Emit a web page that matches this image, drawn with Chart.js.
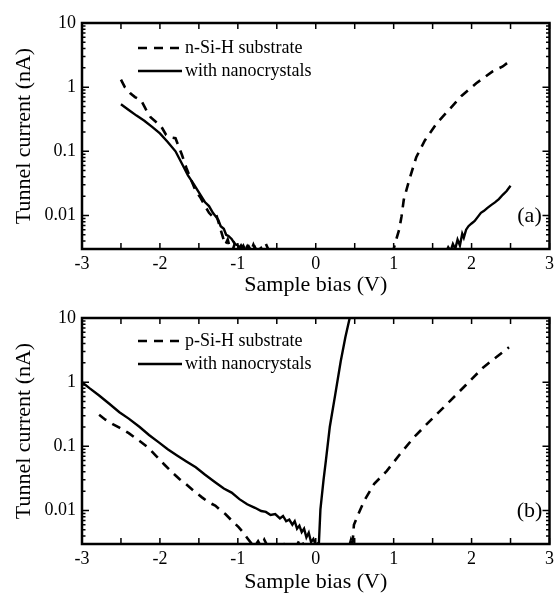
<!DOCTYPE html>
<html lang="en">
<head>
    <meta charset="UTF-8">
    <title>Tunnel current vs sample bias</title>
    <script src="https://cdn.jsdelivr.net/npm/chart.js"></script>
    <style>
        body {
            margin: 0;
            padding: 0;
            background: white;
        }
        #wrap {
            position: relative;
            width: 558px;
            height: 595px;
        }
        canvas {
            position: absolute;
            left: 0;
        }
    </style>
</head>
<body>
    <div id="wrap">
        <canvas id="chartA" width="558" height="298" style="top:0"></canvas>
        <canvas id="chartB" width="558" height="297" style="top:298px"></canvas>
    </div>

    <script>
        // x axis
        const xMin = -3, xMax = 3;
        // y axis (log)
        const yMin = 0.003, yMax = 10;
        const yTicks = [0.01, 0.1, 1, 10];
        const yTickLabels = ['0.01', '0.1', '1', '10'];

        const legendA = ['n-Si-H substrate', 'with nanocrystals'];
        const legendB = ['p-Si-H substrate', 'with nanocrystals'];

        // (a) n-Si-H substrate (dashed)
        const nSubX = [-2.5, -2.45, -2.38, -2.32, -2.24, -2.18, -2.12, -2.04, -1.98, -1.92, -1.86, -1.8, -1.76, -1.72,
            -1.66, -1.6, -1.54, -1.48, -1.42, -1.37, -1.32, -1.28, -1.25, -1.22, -1.19, -1.16, -1.13, -1.1, -1.07,
            -1.04, -1.0, -0.96, -0.92, -0.88, -0.84, -0.8, -0.76, -0.72, -0.68, -0.64, -0.6, -0.56, -0.52, -0.5,
            0.2,
            0.98, 1.0, 1.04, 1.07, 1.1, 1.13, 1.2, 1.29, 1.4, 1.55, 1.7, 1.87, 2.06, 2.27, 2.4, 2.48];
        const nSubY = [1.31, 1.0, 0.8, 0.7, 0.62, 0.45, 0.34, 0.28, 0.24, 0.18, 0.165, 0.16, 0.12, 0.09,
            0.055, 0.036, 0.024, 0.019, 0.014, 0.011, 0.0095, 0.0105, 0.008, 0.006, 0.0045, 0.0035, 0.0042, 0.0031, 0.0028,
            0.0036, 0.0029, 0.0034, 0.0027, 0.0033, 0.0026, 0.0035, 0.0027, 0.0032, 0.0026, 0.0036, 0.0028, 0.0032, 0.0027, 0.0025,
            null,
            0.0025, 0.003, 0.0045, 0.006, 0.0095, 0.0177, 0.036, 0.081, 0.148, 0.27, 0.43, 0.73, 1.15, 1.76, 2.1, 2.5];

        // (a) with nanocrystals (solid)
        const nNcX = [-2.5, -2.4, -2.3, -2.2, -2.1, -2.0, -1.9, -1.8, -1.72, -1.64, -1.56, -1.48, -1.42, -1.37, -1.32,
            -1.28, -1.25, -1.22, -1.18, -1.15, -1.12, -1.08, -1.04, -1.0, -0.96, -0.93, -0.9, -0.86, -0.82, -0.78,
            -0.74, -0.7, -0.66, -0.62, -0.58, -0.54, -0.5,
            0.5,
            1.66, 1.7, 1.73, 1.76, 1.79, 1.82, 1.85, 1.88, 1.9, 1.93, 1.96, 2.0, 2.04, 2.08, 2.12, 2.16, 2.2, 2.25,
            2.3, 2.35, 2.4, 2.45, 2.5];
        const nNcY = [0.54, 0.44, 0.36, 0.3, 0.24, 0.19, 0.14, 0.1, 0.065, 0.042, 0.03, 0.021, 0.016, 0.014, 0.011,
            0.0095, 0.0085, 0.0068, 0.0062, 0.005, 0.0048, 0.0043, 0.0036, 0.0034, 0.003, 0.0034, 0.0028, 0.0033, 0.0027, 0.0032,
            0.0026, 0.0031, 0.0026, 0.003, 0.0025, 0.0029, 0.0024,
            null,
            0.0025, 0.0032, 0.0028, 0.0036, 0.003, 0.0042, 0.0034, 0.0052, 0.0045, 0.006, 0.0068, 0.0075, 0.0082, 0.0095,
            0.011, 0.0118, 0.013, 0.0145, 0.016, 0.018, 0.021, 0.024, 0.029];

        // (b) p-Si-H substrate (dashed)
        const pSubX = [-2.78, -2.7, -2.6, -2.52, -2.4, -2.26, -2.15, -2.05, -1.95, -1.84, -1.75, -1.67, -1.56, -1.46,
            -1.38, -1.29, -1.22, -1.16, -1.08, -0.99, -0.93, -0.87, -0.82, -0.78, -0.74, -0.7, -0.66, -0.62, -0.56,
            -0.5, -0.44, -0.38, -0.32, -0.26, -0.2, -0.14, -0.08, -0.02,
            0.2,
            0.42, 0.45, 0.47, 0.49, 0.55, 0.62, 0.75, 0.91, 1.08, 1.26, 1.46, 1.68, 1.93, 2.15, 2.48];
        const pSubY = [0.31, 0.26, 0.22, 0.195, 0.16, 0.121, 0.095, 0.071, 0.053, 0.039, 0.031, 0.026, 0.02, 0.016,
            0.0135, 0.0119, 0.01, 0.0088, 0.007, 0.0055, 0.0045, 0.0036, 0.003, 0.0028, 0.0033, 0.0027, 0.0035, 0.0028, 0.0032,
            0.0026, 0.0033, 0.0027, 0.0031, 0.0026, 0.0036, 0.0027, 0.0029, 0.0025,
            null,
            0.0025, 0.0034, 0.0028, 0.006, 0.009, 0.014, 0.026, 0.041, 0.075, 0.138, 0.245, 0.45, 0.91, 1.7, 3.5];

        // (b) with nanocrystals (solid)
        const pNcX = [-3.0, -2.9, -2.78, -2.65, -2.52, -2.4, -2.26, -2.14, -2.01, -1.9, -1.78, -1.66, -1.54, -1.42,
            -1.3, -1.18, -1.08, -0.98, -0.88, -0.78, -0.7, -0.64, -0.58, -0.52, -0.46, -0.42, -0.38, -0.34, -0.3,
            -0.27, -0.24, -0.21, -0.18, -0.15, -0.12, -0.09, -0.06, -0.03, 0.0, 0.03, 0.04, 0.06, 0.1, 0.13, 0.18,
            0.25, 0.32, 0.38, 0.43, 0.46];
        const pNcY = [1.0, 0.8, 0.62, 0.46, 0.34, 0.27, 0.2, 0.15, 0.114, 0.09, 0.072, 0.058, 0.047, 0.036,
            0.028, 0.022, 0.019, 0.015, 0.0125, 0.011, 0.0098, 0.0095, 0.0085, 0.0088, 0.0075, 0.0082, 0.0068, 0.0072, 0.006,
            0.0068, 0.0052, 0.0058, 0.0046, 0.0052, 0.0038, 0.0045, 0.0032, 0.0036, 0.0029, 0.0031, 0.003, 0.0104, 0.03, 0.06, 0.2,
            0.64, 2.1, 5, 9.3, 13];

        const serif = 'Liberation Serif';

        function pts(xs, ys) {
            return xs.map((x, i) => ({x: x, y: ys[i]}));
        }

        // inward ticks, frame, legend and panel tag
        const framePlugin = {
            id: 'frame',
            afterDatasetsDraw(chart, args, opts) {
                const ctx = chart.ctx;
                const a = chart.chartArea;
                const x = chart.scales.x;
                const y = chart.scales.y;
                ctx.save();
                ctx.strokeStyle = '#000';
                ctx.lineWidth = 1.5;
                ctx.beginPath();
                for (let v = xMin; v <= xMax + 1e-9; v += 0.5) {
                    const px = x.getPixelForValue(v);
                    ctx.moveTo(px, a.bottom); ctx.lineTo(px, a.bottom - 6);
                    ctx.moveTo(px, a.top); ctx.lineTo(px, a.top + 6);
                }
                for (let e = -3; e <= 1; e++) {
                    for (let m = 1; m < 10; m++) {
                        const v = m * Math.pow(10, e);
                        if (v < yMin * 0.999 || v > yMax * 1.001) continue;
                        const py = y.getPixelForValue(v);
                        const len = m === 1 ? 7 : 3.5;
                        ctx.moveTo(a.left, py); ctx.lineTo(a.left + len, py);
                        ctx.moveTo(a.right, py); ctx.lineTo(a.right - len, py);
                    }
                }
                ctx.stroke();
                ctx.lineWidth = 2.5;
                ctx.strokeRect(a.left, a.top, a.right - a.left, a.bottom - a.top);

                // legend
                ctx.fillStyle = '#000';
                ctx.font = '18px "' + serif + '"';
                ctx.textBaseline = 'middle';
                chart.data.datasets.forEach((ds, i) => {
                    const ly = a.top + opts.legendTop + i * 23;
                    ctx.beginPath();
                    ctx.lineWidth = ds.borderWidth;
                    ctx.setLineDash(ds.borderDash || []);
                    ctx.moveTo(a.left + 56, ly);
                    ctx.lineTo(a.left + 100, ly);
                    ctx.stroke();
                    ctx.setLineDash([]);
                    ctx.fillText(ds.label, a.left + 103, ly);
                });

                ctx.font = '22px "' + serif + '"';
                ctx.textAlign = 'center';
                ctx.fillText(opts.tag, a.right - 20, a.bottom - 33);
                ctx.restore();
            }
        };

        function makeChart(id, labels, subX, subY, ncX, ncY, tag, padTop, xHeight, legendTop) {
            const ctx = document.getElementById(id).getContext('2d');
            return new Chart(ctx, {
                type: 'line',
                data: {
                    datasets: [{
                        label: labels[0],
                        data: pts(subX, subY),
                        borderColor: '#000',
                        borderWidth: 2.6,
                        borderDash: [9, 7],
                        pointRadius: 0,
                        tension: 0,
                        spanGaps: false,
                        clip: 0
                    }, {
                        label: labels[1],
                        data: pts(ncX, ncY),
                        borderColor: '#000',
                        borderWidth: 2.4,
                        pointRadius: 0,
                        tension: 0,
                        spanGaps: false,
                        clip: 0
                    }]
                },
                options: {
                    responsive: false,
                    animation: false,
                    devicePixelRatio: 1,
                    layout: {
                        padding: {top: padTop, right: 4, left: 0, bottom: 0}
                    },
                    plugins: {
                        legend: {display: false},
                        tooltip: {enabled: false},
                        frame: {tag: tag, legendTop: legendTop}
                    },
                    scales: {
                        x: {
                            type: 'linear',
                            min: xMin,
                            max: xMax,
                            grid: {display: false, drawTicks: false},
                            border: {display: false},
                            ticks: {
                                stepSize: 1,
                                maxRotation: 0,
                                color: '#000',
                                padding: 4,
                                font: {family: serif, size: 18}
                            },
                            title: {
                                display: true,
                                text: 'Sample bias (V)',
                                color: '#000',
                                padding: 0,
                                font: {family: serif, size: 22}
                            },
                            afterFit: s => { s.height = xHeight; }
                        },
                        y: {
                            type: 'logarithmic',
                            min: yMin,
                            max: yMax,
                            grid: {display: false, drawTicks: false},
                            border: {display: false},
                            afterBuildTicks: s => { s.ticks = yTicks.map(v => ({value: v})); },
                            ticks: {
                                color: '#000',
                                padding: 6,
                                font: {family: serif, size: 18},
                                callback: v => yTickLabels[yTicks.indexOf(v)]
                            },
                            title: {
                                display: true,
                                text: 'Tunnel current (nA)',
                                color: '#000',
                                padding: {top: 11, bottom: 0},
                                font: {family: serif, size: 22}
                            },
                            afterFit: s => { s.width = 82; }
                        }
                    }
                },
                plugins: [framePlugin]
            });
        }

        makeChart('chartA', legendA, nSubX, nSubY, nNcX, nNcY, '(a)', 23, 49, 25);
        makeChart('chartB', legendB, pSubX, pSubY, pNcX, pNcY, '(b)', 20, 51, 23);
    </script>
</body>
</html>
